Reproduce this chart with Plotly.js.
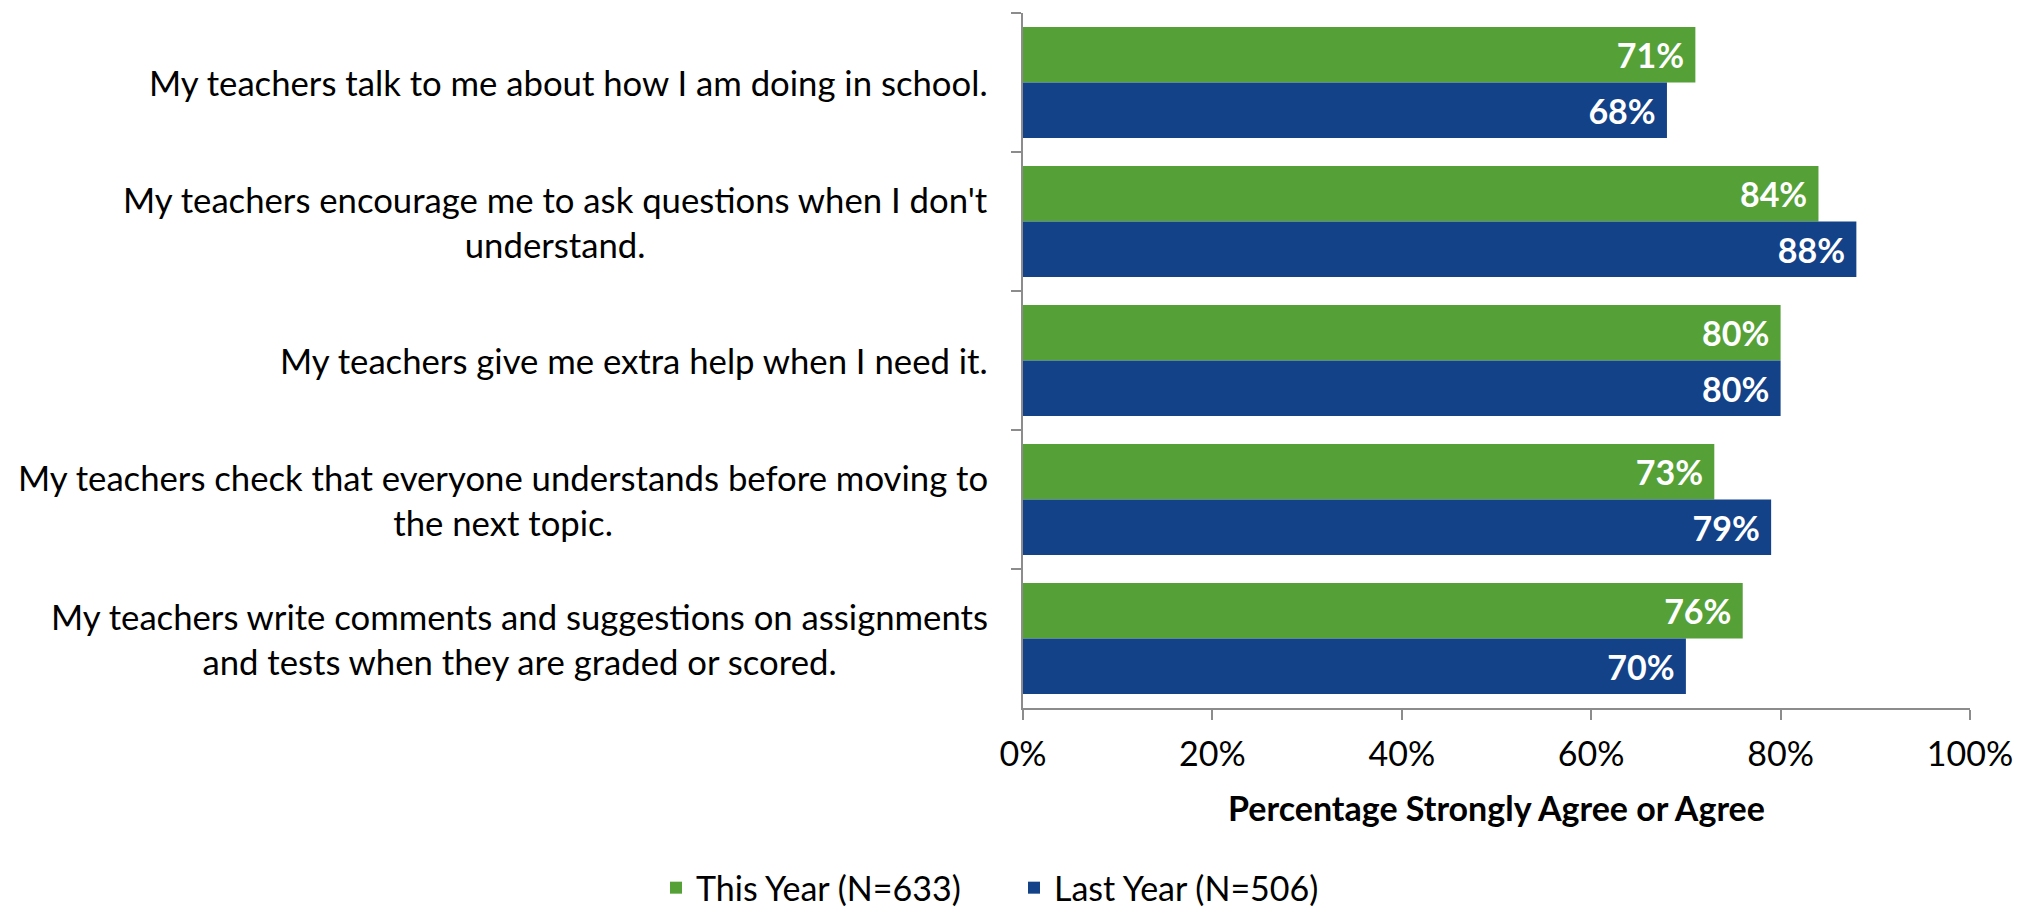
<!DOCTYPE html>
<html>
<head>
<meta charset="utf-8">
<script src="https://cdn.plot.ly/plotly-3.0.1.min.js"></script>
<style>html,body{margin:0;padding:0;background:#fff;}#chart{width:2030px;height:911px;}</style>
</head>
<body>
<div id="chart"></div>
<script>
var categories = [
  "My teachers talk to me about how I am doing in school.",
  "My teachers encourage me to ask questions when I don't<br>understand.",
  "My teachers give me extra help when I need it.",
  "My teachers check that everyone understands before moving to<br>the next topic.",
  "My teachers write comments and suggestions on assignments<br>and tests when they are graded or scored."
];
var thisYear = [71, 84, 80, 73, 76];
var lastYear = [68, 88, 80, 79, 70];
var seriesNames = ["This Year (N=633)", "Last Year (N=506)"];
var xRange = [0, 100];
var xTickStep = 20;
var xTitle = "Percentage Strongly Agree or Agree";

var FONT = "Lato, 'Open Sans', sans-serif";
var green = "#55A137";
var blue = "#134289";

function barTrace(name, vals, color) {
  return {
    type: "bar", orientation: "h", name: name,
    x: vals, y: categories,
    text: vals.map(function(v) { return v + "%"; }),
    marker: {color: color, line: {width: 0}},
    texttemplate: "%{text}\u00a0",
    textposition: "inside", insidetextanchor: "end",
    textfont: {family: FONT, size: 34, color: "#ffffff", weight: "bold"},
    cliponaxis: false, hoverinfo: "skip"
  };
}

var data = [barTrace(seriesNames[0], thisYear, green), barTrace(seriesNames[1], lastYear, blue)];

var annotations = categories.map(function(c) {
  return {
    xref: "paper", yref: "y", x: 0, y: c, xanchor: "right", yanchor: "middle",
    xshift: -33, text: c, showarrow: false, align: "center",
    font: {family: FONT, size: 34.7, color: "#000000"}
  };
});

var layout = {
  width: 2030, height: 911,
  margin: {l: 1023, r: 60, t: 13, b: 203},
  paper_bgcolor: "#ffffff", plot_bgcolor: "#ffffff",
  barmode: "group", bargap: 0.2, bargroupgap: 0,
  showlegend: true,
  font: {family: FONT, size: 34, color: "#000000"},
  xaxis: {
    range: xRange, tickmode: "linear", tick0: 0, dtick: xTickStep, ticksuffix: "%",
    showgrid: false, zeroline: false,
    showline: true, linecolor: "#8c8c8c", linewidth: 2,
    ticks: "outside", ticklen: 10, tickwidth: 2, tickcolor: "#8c8c8c",
    ticklabelstandoff: 5,
    tickfont: {family: FONT, size: 34, color: "#000000"},
    title: {text: xTitle, font: {family: FONT, size: 34, color: "#000000", weight: "bold"}, standoff: 25},
    fixedrange: true
  },
  yaxis: {
    type: "category", autorange: "reversed",
    showticklabels: false, showgrid: false, zeroline: false,
    showline: true, linecolor: "#8c8c8c", linewidth: 2,
    ticks: "outside", tickson: "boundaries", ticklen: 10, tickwidth: 2, tickcolor: "#8c8c8c",
    fixedrange: true
  },
  legend: {
    orientation: "h", xref: "container", yref: "container",
    x: 656 / 2030, xanchor: "left", y: 0.057, yanchor: "top",
    font: {family: FONT, size: 34, color: "#000000"},
    traceorder: "normal", entrywidth: 313, entrywidthmode: "pixels"
  },
  annotations: annotations
};

Plotly.newPlot("chart", data, layout, {displayModeBar: false, staticPlot: true});
</script>
</body>
</html>
